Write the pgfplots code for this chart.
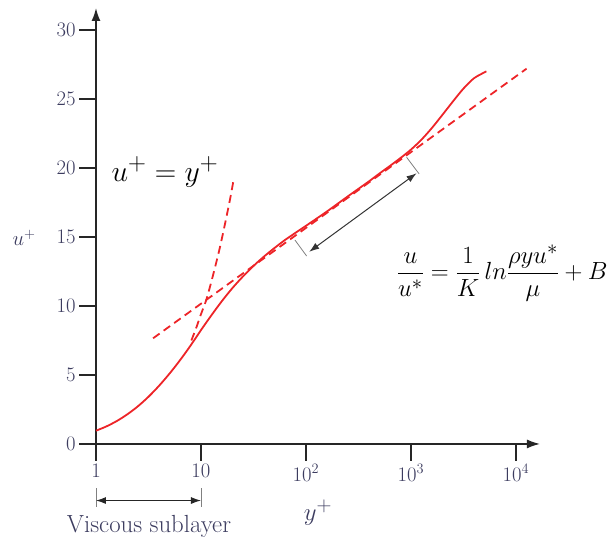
\documentclass[border=0pt]{standalone}
\usepackage{pgfplots}
\pgfplotsset{compat=1.18}
\usetikzlibrary{arrows.meta}
\definecolor{cred}{RGB}{237,36,40}
\definecolor{tcol}{RGB}{60,60,95}
\begin{document}
\begin{tikzpicture}
\begin{axis}[
 width=444bp, height=436bp, scale only axis,
 xmode=log, xmin=1, xmax=16982, ymin=0, ymax=31.6,
 axis lines=left,
 axis line style={line width=1.6bp, black!85, -{Latex[length=13bp,width=9bp]}},
 tick style={line width=1.6bp, black!85},
 minor tick style={draw=none},
 major tick length=17bp,
 tick align=outside,
 xtick={1,10,100,1000,10000}, xticklabels={$1$,$10$,$10^2$,$10^3$,$10^4$},
 ytick={0,5,...,30},
 tick label style={font=\fontsize{20}{24}\selectfont, text=tcol},
 clip=false,
]
\path (rel axis cs:-0.2162,-0.2133) rectangle (rel axis cs:1.1667,1.0183);
% full velocity profile
\addplot[cred, line width=1.8bp, smooth] coordinates {
(1,0.96) (1.2589,1.275) (1.5849,1.67) (1.9953,2.155) (2.5119,2.735) (3.1623,3.42)
(3.9811,4.21) (5.0119,5.095) (6.3096,6.065) (7.9433,7.12) (10,8.25)
(12.589,9.33) (15.849,10.36) (19.953,11.3) (25.119,12.14) (31.623,12.9)
(39.811,13.58) (50.119,14.2) (63.096,14.78) (79.433,15.3) (100,15.81)
(158.49,16.85) (251.19,17.95) (398.11,19.03) (501.19,19.6) (630.96,20.15)
(794.33,20.72) (1000,21.33) (1258.9,22.05) (1584.9,22.9) (1995.3,23.85)
(2511.9,24.82) (3162.3,25.75) (3981.1,26.5) (5011.9,26.93) (5248,27.0)};
% log law
\addplot[cred, line width=1.8bp, dash pattern=on 8bp off 5bp] coordinates {(3.5,7.66) (12650,27.2)};
% linear sublayer
\addplot[cred, line width=1.8bp, dash pattern=on 8bp off 5bp, smooth] coordinates {
(8.1,7.5) (9,8.4) (10,9.4) (11.3,10.5) (13,12.2) (15,14.1) (17,16.0) (19,17.8) (20.3,19.0)};
% bracket arrow
\draw[gray, line width=0.8bp] (axis cs:78.6,14.78) -- (axis cs:101.6,13.62);
\draw[gray, line width=0.8bp] (axis cs:910,20.78) -- (axis cs:1199,19.57);
\draw[black!80, line width=1bp, {Latex[length=10bp,width=7bp]}-{Latex[length=10bp,width=7bp]}] (axis cs:107.5,13.93) -- (axis cs:1132,19.62);
% viscous sublayer
\draw[gray, line width=0.8bp] (axis cs:1,-3.2) -- (axis cs:1,-4.6);
\draw[gray, line width=0.8bp] (axis cs:10,-3.2) -- (axis cs:10,-4.6);
\draw[black!85, line width=1bp, {Latex[length=10bp,width=7bp]}-{Latex[length=10bp,width=7bp]}] (axis cs:1,-4.1) -- (axis cs:10,-4.1);
\node[font=\Huge, text=tcol] at (axis cs:3.2,-6.0) {Viscous sublayer};
\node[font=\Huge, text=tcol] at (rel axis cs:0.5,-0.158) {$y^+$};
\node[font=\fontsize{20}{24}\selectfont, text=tcol] at (rel axis cs:-0.162,0.4725) {$u^+$};
% annotations
\node[font=\Huge, scale=1.2] at (axis cs:4.54,19.7) {$u^+=y^+$};
\node[font=\Huge] at (axis cs:7430,12.39) {$\displaystyle \frac{u}{u^*}=\frac{1}{K}\,ln\frac{\rho y u^*}{\mu}+B$};
\end{axis}
\end{tikzpicture}
\end{document}
